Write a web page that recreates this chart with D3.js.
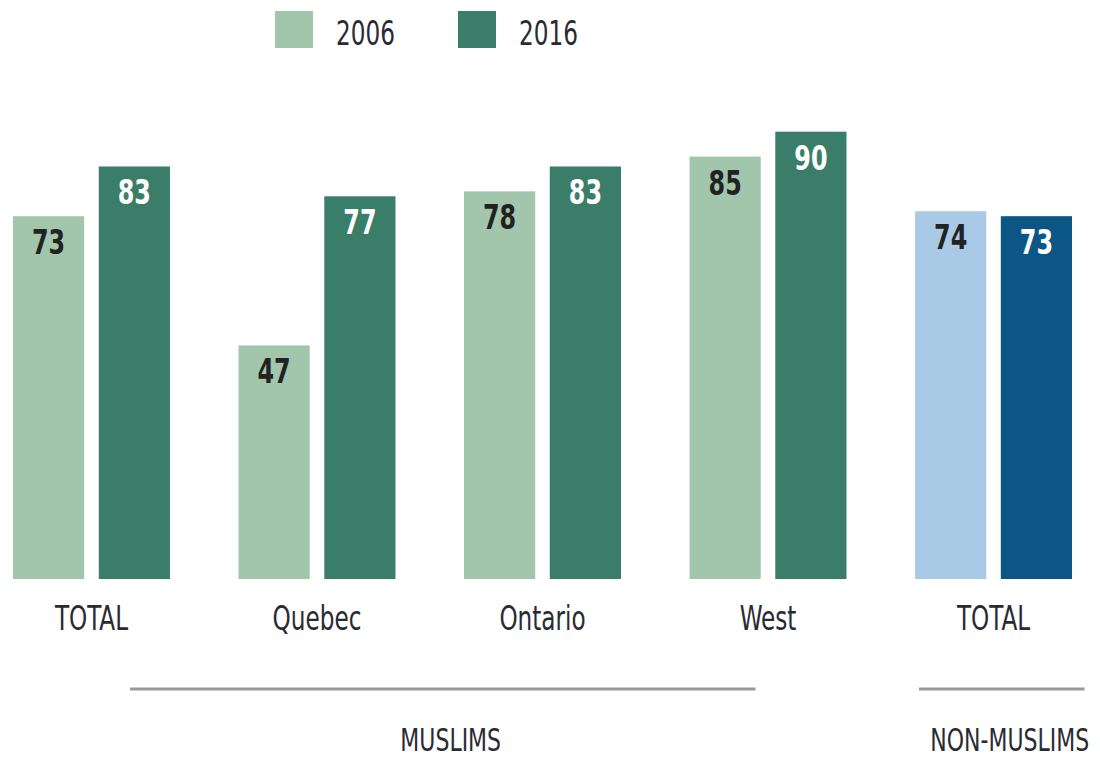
<!DOCTYPE html>
<html>
<head>
<meta charset="utf-8">
<script src="https://cdn.jsdelivr.net/npm/d3@7"></script>
<style>
  body { margin: 0; background: #fff; }
  svg { display: block; }
  text { font-family: "Liberation Sans Narrow", "DejaVu Sans Condensed", sans-serif; }
</style>
</head>
<body>
<svg id="chart" width="1100" height="759"></svg>
<script>
// chart values
const categories = ["TOTAL", "Quebec", "Ontario", "West", "TOTAL"];
const years = ["2006", "2016"];
const values2006 = [73, 47, 78, 85, 74];
const values2016 = [83, 77, 83, 90, 73];
const populations = ["MUSLIMS", "NON-MUSLIMS"];
const populationFirst = [0, 4];
const populationLast = [3, 4];

const greens = ["#a2c6ac", "#3a7e69"];
const blues = ["#a9cae6", "#0b5685"];
const condense = 0.78;

let svg = d3.select("#chart");
let baseline = 579;

// group scale (one band per category)
let x0 = d3.scaleBand()
    .domain(d3.range(categories.length))
    .range([13, 1072])
    .paddingInner(0.304)
    .paddingOuter(0);

let x1 = d3.scaleBand()
    .domain(years)
    .range([0, x0.bandwidth()])
    .paddingInner(0.17)
    .paddingOuter(0);

let y = d3.scaleLinear()
    .domain([0, 100])
    .range([baseline, baseline - 497]);

let bars = [];
categories.forEach(function(c, i) {
    let pop = i < 4 ? 0 : 1;
    bars.push({group: i, year: "2006", value: values2006[i], color: pop == 0 ? greens[0] : blues[0], dark: false});
    bars.push({group: i, year: "2016", value: values2016[i], color: pop == 0 ? greens[1] : blues[1], dark: true});
});

let barG = svg.selectAll(".bar_g")
    .data(bars)
    .enter().append("g")
    .attr("class", "bar_g")
    .attr("transform", function(d) {
        return "translate(" + (x0(d.group) + x1(d.year)) + ",0)";
    });

barG.append("rect")
    .attr("x", 0)
    .attr("y", function(d) { return y(d.value); })
    .attr("width", x1.bandwidth())
    .attr("height", function(d) { return baseline - y(d.value); })
    .style("fill", function(d) { return d.color; });

barG.append("text")
    .attr("transform", function(d) {
        return "translate(" + (x1.bandwidth() / 2) + "," + (y(d.value) + 38) + ") scale(" + condense + ",1)";
    })
    .attr("text-anchor", "middle")
    .style("font-size", "34px")
    .style("font-weight", "bold")
    .style("fill", function(d) { return d.dark ? "#ffffff" : "#222222"; })
    .text(function(d) { return d.value; });

// category labels
svg.selectAll(".cat_label")
    .data(categories)
    .enter().append("text")
    .attr("class", "cat_label")
    .attr("transform", function(d, i) {
        return "translate(" + (x0(i) + x0.bandwidth() / 2) + ",630) scale(" + condense + ",1)";
    })
    .attr("text-anchor", "middle")
    .style("font-size", "33px")
    .style("fill", "#2a2a33")
    .text(function(d) { return d; });

// population brackets
let spanStart = [0.745, 0.025];
let spanEnd = [0.42, 1.08];
populations.forEach(function(p, i) {
    let xs = x0(populationFirst[i]) + x0.bandwidth() * spanStart[i];
    let xe = x0(populationLast[i]) + x0.bandwidth() * spanEnd[i];
    svg.append("line")
        .attr("x1", xs).attr("x2", xe)
        .attr("y1", 689).attr("y2", 689)
        .style("stroke", "#9a9a9a")
        .style("stroke-width", 3);
    svg.append("text")
        .attr("transform", "translate(" + ((xs + xe) / 2 + 8) + ",751) scale(" + (condense * 0.98) + ",1)")
        .attr("text-anchor", "middle")
        .style("font-size", "32px")
        .style("fill", "#2a2a33")
        .text(p);
});

// legend
let legend = svg.selectAll(".legend_g")
    .data(years)
    .enter().append("g")
    .attr("class", "legend_g")
    .attr("transform", function(d, i) { return "translate(" + (275 + i * 183) + ",11)"; });

legend.append("rect")
    .attr("width", 38)
    .attr("height", 37)
    .style("fill", function(d, i) { return greens[i]; });

legend.append("text")
    .attr("transform", "translate(61,34) scale(" + condense + ",1)")
    .style("font-size", "33px")
    .style("fill", "#2a2a33")
    .text(function(d) { return d; });
</script>
</body>
</html>
